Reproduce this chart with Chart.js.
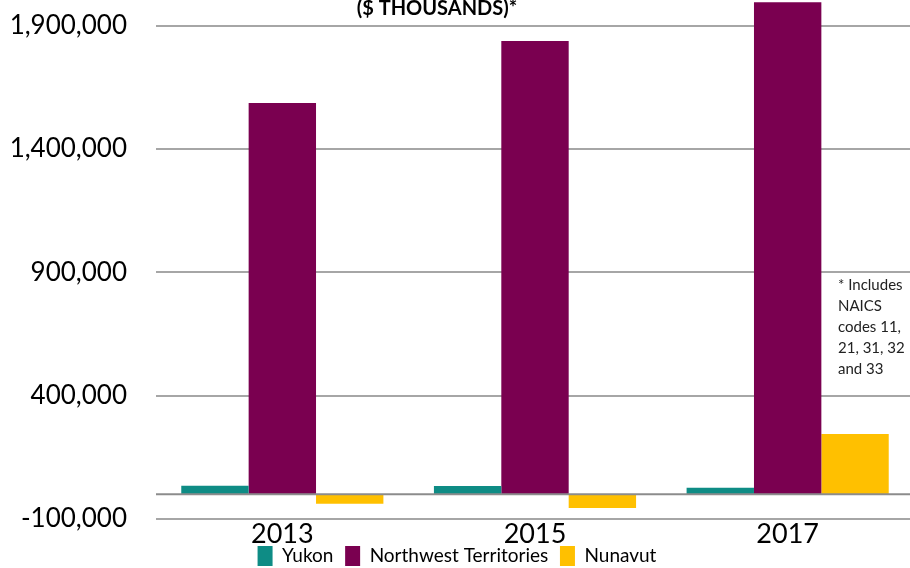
<!DOCTYPE html>
<html>
<head>
<meta charset="utf-8">
<script src="https://cdn.jsdelivr.net/npm/chart.js@4.4.1/dist/chart.umd.min.js"></script>
<style>
html, body { margin: 0; padding: 0; background: #fff; overflow: hidden; }
#wrap { position: absolute; left: 0; top: 0; width: 914px; height: 568px; }
</style>
</head>
<body>
<div id="wrap"><canvas id="chart"></canvas></div>
<script>
let years = ['2013', '2015', '2017']; // категории по оси X
let yukon = [35000, 34000, 27000];
let nwt = [1586000, 1838000, 1995000];
let nunavut = [-38000, -55000, 245000];
let yTicks = [-100000, 400000, 900000, 1400000, 1900000]; // подписи оси Y
let titleText = '($ THOUSANDS)*';
let noteLines = ['* Includes', 'NAICS', 'codes 11,', '21, 31, 32', 'and 33'];

Chart.defaults.font.family = 'Lato';

// нулевая линия, заголовок и примечание
const extras = {
    id: 'extras',
    afterDatasetsDraw(chart) {
        const ctx = chart.ctx;
        const area = chart.chartArea;
        const zero = chart.scales.y.getPixelForValue(0);
        ctx.save();
        ctx.strokeStyle = '#8c8c8c';
        ctx.lineWidth = 2;
        ctx.beginPath();
        ctx.moveTo(area.left, zero);
        ctx.lineTo(area.right, zero);
        ctx.stroke();

        ctx.fillStyle = '#000';
        ctx.font = 'bold 20px Lato';
        ctx.textAlign = 'center';
        ctx.textBaseline = 'alphabetic';
        ctx.fillText(titleText, 437, 15);

        ctx.font = '15px Lato';
        ctx.textAlign = 'left';
        ctx.fillStyle = '#222';
        noteLines.forEach(function(line, i){
            ctx.fillText(line, 838, 290 + i * 21);
        });
        ctx.restore();
    }
};

const chart = new Chart(document.getElementById('chart'), {
    type: 'bar',
    data: {
        labels: years,
        datasets: [
            { label: 'Yukon', data: yukon, backgroundColor: '#0E8C85', borderWidth: 0 },
            { label: 'Northwest Territories', data: nwt, backgroundColor: '#7A0050', borderWidth: 0 },
            { label: 'Nunavut', data: nunavut, backgroundColor: '#FFC000', borderWidth: 0 }
        ]
    },
    options: {
        responsive: true,
        maintainAspectRatio: false,
        animation: false,
        devicePixelRatio: 1,
        categoryPercentage: 0.8,
        barPercentage: 1.0,
        layout: { padding: { left: 0, right: 0, top: 0, bottom: -8 } },
        plugins: {
            legend: {
                position: 'bottom',
                labels: {
                    boxWidth: 15,
                    boxHeight: 20,
                    padding: 2,
                    color: '#000',
                    font: { size: 19 },
                    generateLabels: function(chart){
                        let items = Chart.defaults.plugins.legend.labels.generateLabels(chart);
                        items.forEach(function(it, i){
                            if (i < items.length - 1) it.text += '  '; // отступ между элементами
                        });
                        return items;
                    }
                }
            },
            tooltip: { enabled: false }
        },
        scales: {
            x: {
                grid: { display: false, drawTicks: false },
                border: { display: false },
                ticks: { color: '#000', font: { size: 27, lineHeight: 1.0 }, padding: 2 },
                afterFit: function(scale){ scale.height = 25; }
            },
            y: {
                min: -100000,
                max: 2004000,
                afterBuildTicks: function(scale){
                    scale.ticks = yTicks.map(function(v){ return { value: v }; });
                },
                afterFit: function(scale){
                    scale.width = 156;
                    scale.paddingTop = 0;
                    scale.paddingBottom = 0;
                },
                grid: { color: '#a6a6a6', lineWidth: 2, drawTicks: false },
                border: { display: false },
                ticks: {
                    color: '#000',
                    font: { size: 26 },
                    padding: 29,
                    callback: function(v){ return v.toLocaleString('en-US'); }
                }
            }
        }
    },
    plugins: [extras]
});
</script>
</body>
</html>
